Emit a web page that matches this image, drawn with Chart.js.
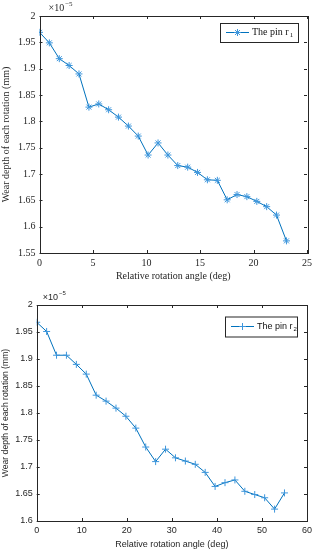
<!DOCTYPE html>
<html lang="en">
<head>
    <meta charset="UTF-8">
    <title>Wear depth of each rotation</title>
    <script src="https://cdn.jsdelivr.net/npm/chart.js"></script>
    <style>
        body { margin: 0; background: #fff; }
        .box { position: absolute; left: 0; width: 318px; }
        #box1 { top: 0; height: 282px; }
        #box2 { top: 282px; height: 268px; }
    </style>
</head>
<body>
    <div class="box" id="box1"><canvas id="chart1"></canvas></div>
    <div class="box" id="box2"><canvas id="chart2"></canvas></div>

    <script>
        // pin r1 (top chart)
        const angle1 = [0, 0.92, 1.85, 2.77, 3.69, 4.62, 5.54, 6.46, 7.38, 8.31, 9.23, 10.15, 11.08,
                        12, 12.92, 13.85, 14.77, 15.69, 16.62, 17.54, 18.46, 19.38, 20.31, 21.23, 22.15, 23.08];
        const wear1 = [1.969, 1.949, 1.919, 1.906, 1.890, 1.827, 1.833, 1.822, 1.808, 1.791, 1.772, 1.736, 1.759,
                       1.736, 1.716, 1.713, 1.703, 1.689, 1.688, 1.651, 1.661, 1.657, 1.648, 1.638, 1.622, 1.573];
        const xTicks1 = [0, 5, 10, 15, 20, 25];
        const yTicks1 = [1.55, 1.6, 1.65, 1.7, 1.75, 1.8, 1.85, 1.9, 1.95, 2];

        // pin r2 (bottom chart)
        const angle2 = [0, 2.2, 4.4, 6.6, 8.8, 11, 13.2, 15.4, 17.6, 19.8, 22, 24.2, 26.4,
                        28.6, 30.8, 33, 35.2, 37.4, 39.6, 41.8, 44, 46.2, 48.4, 50.6, 52.8, 55];
        const wear2 = [1.968, 1.951, 1.907, 1.907, 1.890, 1.872, 1.833, 1.822, 1.809, 1.794, 1.772, 1.737, 1.710,
                       1.733, 1.717, 1.711, 1.705, 1.690, 1.664, 1.671, 1.676, 1.655, 1.649, 1.643, 1.622, 1.652];
        const xTicks2 = [0, 10, 20, 30, 40, 50, 60];
        const yTicks2 = [1.6, 1.65, 1.7, 1.75, 1.8, 1.85, 1.9, 1.95, 2];

        const blue = '#0072BD';
        const markBlue = '#3d96dc';

        // per-chart extras (kept outside the chart options)
        const extras = {
            chart1: { family: '"Liberation Serif", "Times New Roman", serif', size: 10, expDx: 9, sub: '1',
                      lx: 220, ly: 23, lw: 78, lh: 19 },
            chart2: { family: '"Liberation Sans", Arial, sans-serif', size: 9, expDx: 6, sub: '2',
                      lx: 225, ly: 34.5, lw: 72, lh: 20 }
        };

        // matlab style box with inward ticks, exponent label and legend
        const matlabBox = {
            id: 'matlabBox',
            afterDraw(chart) {
                const e = extras[chart.canvas.id];
                const ctx = chart.ctx;
                const a = chart.chartArea;
                const xs = chart.scales.x, ys = chart.scales.y;
                ctx.save();
                ctx.strokeStyle = '#262626';
                ctx.lineWidth = 1;
                ctx.strokeRect(Math.round(a.left) + 0.5, Math.round(a.top) + 0.5,
                    Math.round(a.right - a.left), Math.round(a.bottom - a.top));
                ctx.beginPath();
                xs.ticks.forEach(t => {
                    const px = Math.round(xs.getPixelForValue(t.value)) + 0.5;
                    ctx.moveTo(px, a.bottom); ctx.lineTo(px, a.bottom - 3);
                    ctx.moveTo(px, a.top); ctx.lineTo(px, a.top + 3);
                });
                ys.ticks.forEach(t => {
                    const py = Math.round(ys.getPixelForValue(t.value)) + 0.5;
                    ctx.moveTo(a.left, py); ctx.lineTo(a.left + 3, py);
                    ctx.moveTo(a.right, py); ctx.lineTo(a.right - 3, py);
                });
                ctx.stroke();

                // x10^-5
                ctx.fillStyle = '#262626';
                ctx.textBaseline = 'alphabetic';
                ctx.textAlign = 'left';
                ctx.font = e.size + 'px ' + e.family;
                const ex = a.left + e.expDx, ey = a.top - 5;
                ctx.fillText('\u00d710', ex, ey);
                const w10 = ctx.measureText('\u00d710').width;
                ctx.font = (e.size - 3) + 'px ' + e.family;
                ctx.fillText('\u22125', ex + w10 + 1, ey - 5);

                // legend
                ctx.fillStyle = '#fff';
                ctx.fillRect(e.lx, e.ly, e.lw, e.lh);
                ctx.strokeStyle = '#262626';
                ctx.strokeRect(e.lx + 0.5, e.ly + 0.5, e.lw, e.lh);
                const my = e.ly + e.lh / 2;
                ctx.strokeStyle = blue;
                ctx.beginPath();
                ctx.moveTo(e.lx + 6, my); ctx.lineTo(e.lx + 29, my);
                ctx.stroke();
                const ds = chart.data.datasets[0];
                ctx.strokeStyle = markBlue;
                ctx.fillStyle = markBlue;
                Chart.helpers.drawPoint(ctx, {
                    pointStyle: ds.pointStyle, radius: ds.pointRadius, rotation: 0, borderWidth: 1
                }, e.lx + 17.5, my);
                ctx.fillStyle = '#111';
                ctx.font = e.size + 'px ' + e.family;
                ctx.textBaseline = 'middle';
                ctx.fillText(ds.label, e.lx + 32, my);
                const wl = ctx.measureText(ds.label).width;
                ctx.font = (e.size - 3) + 'px ' + e.family;
                ctx.fillText(e.sub, e.lx + 32 + wl + 1, my + 3);
                ctx.restore();
            }
        };

        function makeChart(id, xv, yv, xTicks, yTicks, o) {
            const pts = xv.map((x, i) => ({ x: x, y: yv[i] }));
            const fam = extras[id].family, size = extras[id].size;
            return new Chart(document.getElementById(id), {
                type: 'line',
                data: {
                    datasets: [{
                        label: 'The pin r',
                        data: pts,
                        borderColor: blue,
                        borderWidth: 1,
                        pointStyle: o.pointStyle,
                        pointRadius: 3.5,
                        pointBorderColor: markBlue,
                        pointBackgroundColor: markBlue,
                        pointBorderWidth: 1,
                        tension: 0,
                        fill: false
                    }]
                },
                options: {
                    responsive: true,
                    maintainAspectRatio: false,
                    animation: false,
                    layout: { padding: { top: o.padTop, right: 11, left: 0, bottom: 0 } },
                    plugins: {
                        legend: { display: false },
                        tooltip: { enabled: false }
                    },
                    scales: {
                        x: {
                            type: 'linear',
                            min: xTicks[0], max: xTicks[xTicks.length - 1],
                            afterBuildTicks: s => { s.ticks = xTicks.map(v => ({ value: v })); },
                            afterFit: s => { s.height = 29; },
                            grid: { display: false, drawTicks: false },
                            border: { display: false },
                            ticks: { color: '#262626', padding: 4, maxRotation: 0, autoSkip: false,
                                     font: { family: fam, size: size } },
                            title: { display: true, text: 'Relative rotation angle (deg)', color: '#262626',
                                     padding: { top: 1, bottom: 0 },
                                     font: { family: fam, size: size } }
                        },
                        y: {
                            type: 'linear',
                            min: yTicks[0], max: yTicks[yTicks.length - 1],
                            afterBuildTicks: s => { s.ticks = yTicks.map(v => ({ value: v })); },
                            afterFit: s => { s.width = o.yWidth; },
                            grid: { display: false, drawTicks: false },
                            border: { display: false },
                            ticks: { color: '#262626', padding: 4, autoSkip: false, callback: v => String(v),
                                     font: { family: fam, size: size } },
                            title: { display: true, text: 'Wear depth of each rotation (mm)', color: '#262626',
                                     padding: { top: 0, bottom: 0 },
                                     font: { family: fam, size: o.titleSize } }
                        }
                    }
                },
                plugins: [matlabBox]
            });
        }

        makeChart('chart1', angle1, wear1, xTicks1, yTicks1, { pointStyle: 'star', padTop: 16, yWidth: 39.5, titleSize: 10 });
        makeChart('chart2', angle2, wear2, xTicks2, yTicks2, { pointStyle: 'cross', padTop: 23, yWidth: 36.7, titleSize: 8.6 });
    </script>
</body>
</html>
